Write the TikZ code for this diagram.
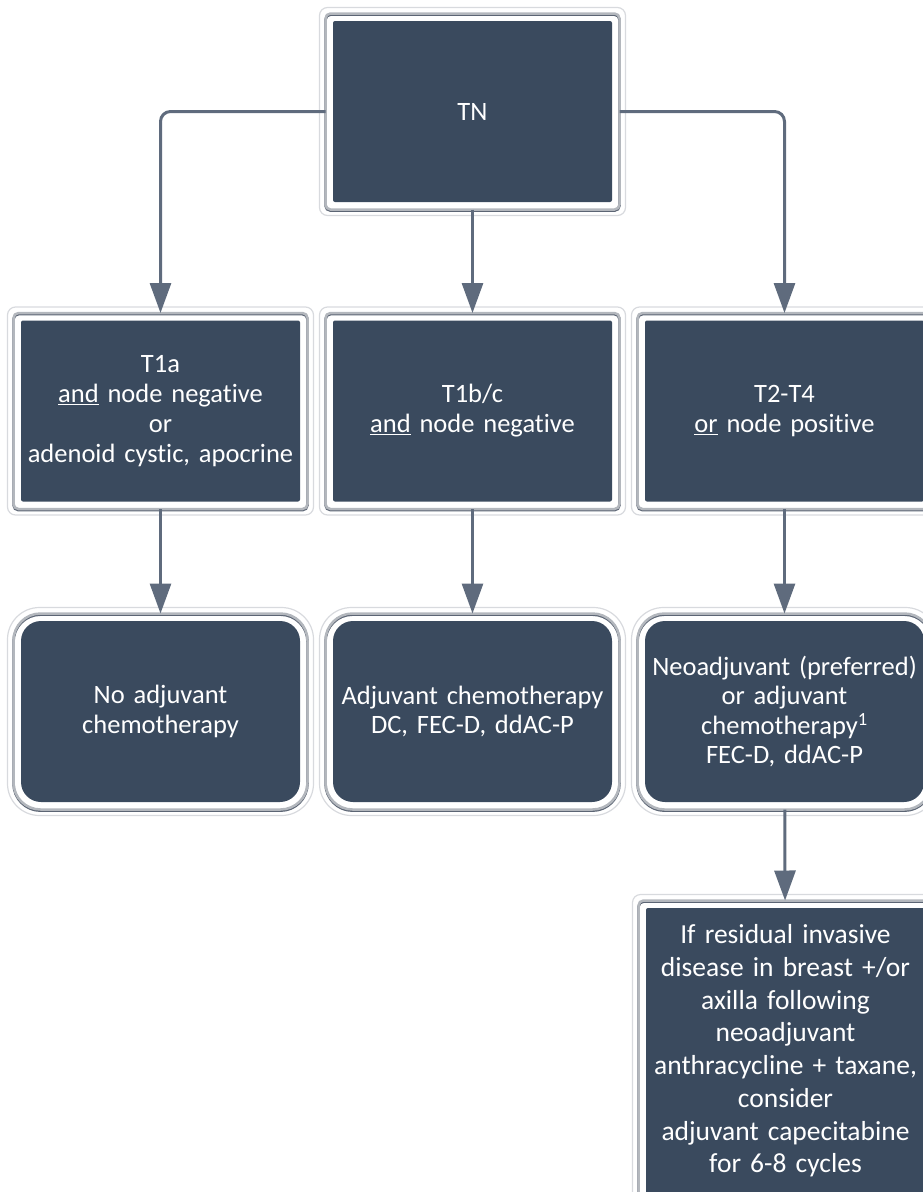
\documentclass[tikz,border=0pt]{standalone}
\usepackage{fontspec}
\setmainfont[Ligatures=NoCommon]{Carlito}
\usetikzlibrary{arrows.meta}

\definecolor{boxfill}{HTML}{3A4A5E}
\definecolor{linegray}{HTML}{5F6B7D}
\definecolor{framegray}{HTML}{B3B7BD}
\definecolor{frameshade}{HTML}{5C6574}
\definecolor{halogray}{HTML}{D8DADE}

\tikzset{
    box/.style={fill=boxfill, text=white, align=center, text width=279pt,
        minimum height=181pt, inner sep=0pt, outer sep=7.5pt, rounded corners=2pt,
        font=\fontsize{26.5}{30}\selectfont},
    roundbox/.style={box, rounded corners=20pt, font=\fontsize{26.5}{29.5}\selectfont},
    boxframe/.style={draw=framegray, line width=2.5pt, rounded corners=#1,
        preaction={draw=frameshade, line width=2.5pt, transform canvas={yshift=-1.2pt}}},
    boxhalo/.style={draw=halogray, line width=1.2pt, rounded corners=#1},
    arr/.style={draw=linegray, line width=3pt, rounded corners=10pt,
        -{Triangle[width=21pt,length=30pt]}},
}

\begin{document}
\begin{tikzpicture}[x=1pt, y=-1pt]
\useasboundingbox (0,0) rectangle (923,1192);

% boxes
\node [box] (tn) at (472.5,111.5) {TN};
\node [box] (tone) at (160.5,411) {T1a\\\underline{and} node negative\\or\\adenoid cystic, apocrine};
\node [box] (ttwo) at (472.5,411) {T1b/c\\\underline{and} node negative};
\node [box] (tthree) at (784.5,411) {T2-T4\\\underline{or} node positive};
\node [roundbox] (noadj) at (160.5,711.5) {No adjuvant\\chemotherapy};
\node [roundbox] (adj) at (472.5,711.5) {Adjuvant chemotherapy\\DC, FEC-D, ddAC-P};
\node [roundbox] (neoadj) at (784.5,711.5) {Neoadjuvant (preferred)\\or adjuvant\\chemotherapy\textsuperscript{1}\\FEC-D, ddAC-P};
\node [box, minimum height=286pt, font=\fontsize{27.5}{32.7}\selectfont] (resid) at (785.5,1051)
    {If residual invasive\\disease in breast +/or\\axilla following\\neoadjuvant\\anthracycline + taxane,\\consider\\adjuvant capecitabine\\for 6-8 cycles};

% frames
\foreach \n in {tn,tone,ttwo,tthree,resid}{
    \draw [boxhalo=8pt] ([shift={(-6pt,6pt)}]\n.north west) rectangle ([shift={(6pt,-6pt)}]\n.south east);
    \draw [boxframe=5pt] (\n.north west) rectangle (\n.south east);
}
\foreach \n in {noadj,adj,neoadj}{
    \draw [boxhalo=32pt] ([shift={(-6pt,6pt)}]\n.north west) rectangle ([shift={(6pt,-6pt)}]\n.south east);
    \draw [boxframe=27pt] (\n.north west) rectangle (\n.south east);
}

% connectors
\draw [arr] (tn.west) -| (tone.north);
\draw [arr] (tn) -- (ttwo);
\draw [arr] (tn.east) -| (tthree.north);
\draw [arr] (tone) -- (noadj);
\draw [arr] (ttwo) -- (adj);
\draw [arr] (tthree) -- (neoadj);
\draw [arr] (neoadj) -- (resid);
\end{tikzpicture}
\end{document}
